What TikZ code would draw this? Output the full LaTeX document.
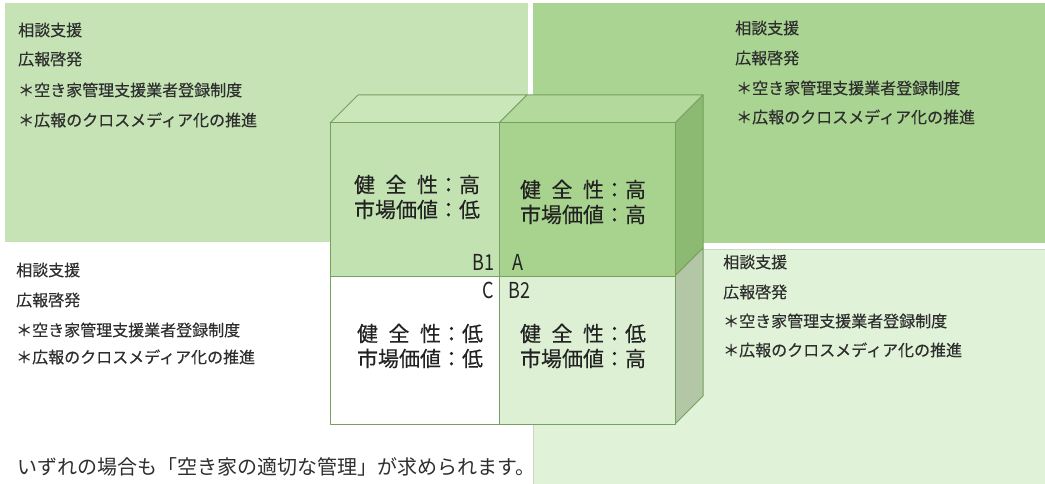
\documentclass[tikz,border=0pt]{standalone}
\usepackage{fontspec}
\setmainfont{Noto Sans CJK JP}
\newfontfamily\labfont[FakeStretch=0.82]{Noto Sans CJK JP}
\newfontfamily\heavyfont[FakeBold=0.3]{Noto Sans CJK JP}
\definecolor{tlfill}{HTML}{C5E3B5}
\definecolor{trfill}{HTML}{A9D491}
\definecolor{brfill}{HTML}{E0F2D7}
\definecolor{brline}{HTML}{CCD6C6}
\definecolor{faceBone}{HTML}{C3E2B2}
\definecolor{faceA}{HTML}{A7D38F}
\definecolor{faceBtwo}{HTML}{DEF0D4}
\definecolor{topL}{HTML}{C9E7B9}
\definecolor{topR}{HTML}{B3D99C}
\definecolor{sideU}{HTML}{8DBA72}
\definecolor{sideL}{HTML}{B3C7A6}
\definecolor{edge}{HTML}{76A060}
\definecolor{txt}{HTML}{2E2E2E}
\definecolor{txtd}{HTML}{222222}
\tikzset{
  infoline/.style={anchor=west, inner sep=0pt, text=txt, font=\heavyfont\fontsize{16pt}{18pt}\selectfont},
  cubetext/.style={inner sep=0pt, text=txtd, align=left, font=\heavyfont\fontsize{21pt}{25pt}\selectfont},
  cubelabel/.style={inner sep=0pt, text=txtd, font=\labfont\fontsize{22pt}{24pt}\selectfont},
  cubeface/.style={draw=edge, line width=1pt, line join=round},
  footnote/.style={anchor=west, inner sep=0pt, text=txt, font=\fontsize{20pt}{22pt}\selectfont}
}
\newcommand{\kenzen}{\makebox[4em][s]{健\hfill 全\hfill 性}}
\begin{document}
\begin{tikzpicture}[x=1pt,y=-1pt]
\useasboundingbox (0,0) rectangle (1045,484);
% background panels
\fill[tlfill] (5,3) rectangle (528,242);
\fill[trfill] (533,3) rectangle (1045,243);
\filldraw[fill=brfill, draw=brline, line width=0.8pt] (533,249) rectangle (1046,485);
% panel texts
\node[infoline] (tla) at (18,30) {相談支援};
\node[infoline] (tlb) at (18,59) {広報啓発};
\node[infoline] (tlc) at (18,90) {＊空き家管理支援業者登録制度};
\node[infoline] (tld) at (18,120) {＊広報のクロスメディア化の推進};
\node[infoline] (tra) at (735,28) {相談支援};
\node[infoline] (trb) at (735,58) {広報啓発};
\node[infoline] (trc) at (736,88) {＊空き家管理支援業者登録制度};
\node[infoline] (trd) at (736,117) {＊広報のクロスメディア化の推進};
\node[infoline] (bla) at (16,270) {相談支援};
\node[infoline] (blb) at (16,300) {広報啓発};
\node[infoline] (blc) at (16,330) {＊空き家管理支援業者登録制度};
\node[infoline] (bld) at (16,357) {＊広報のクロスメディア化の推進};
\node[infoline] (bra) at (723,262) {相談支援};
\node[infoline] (brb) at (723,292) {広報啓発};
\node[infoline] (brc) at (723,321) {＊空き家管理支援業者登録制度};
\node[infoline] (brd) at (723,350) {＊広報のクロスメディア化の推進};
% cube
\path[cubeface, fill=topL] (330,123) -- (358,95) -- (527,95) -- (499,123) -- cycle;
\path[cubeface, fill=topR] (499,123) -- (527,95) -- (703,95) -- (675,123) -- cycle;
\path[cubeface, fill=sideU] (675,123) -- (703,95) -- (703,248) -- (675,276) -- cycle;
\path[cubeface, fill=sideL] (675,276) -- (703,248) -- (703,396) -- (675,424) -- cycle;
\path[cubeface, fill=faceBone] (330,123) rectangle (499,276);
\path[cubeface, fill=faceA] (499,123) rectangle (675,276);
\path[cubeface, fill=white] (330,276) rectangle (499,424);
\path[cubeface, fill=faceBtwo] (499,276) rectangle (675,424);
% cube texts
\node[cubetext] (qb1) at (417,197) {\kenzen：高\\市場価値：低};
\node[cubetext] (qa) at (583,202) {\kenzen：高\\市場価値：高};
\node[cubetext] (qc) at (420,346) {\kenzen：低\\市場価値：低};
\node[cubetext] (qb2) at (583,346) {\kenzen：低\\市場価値：高};
\node[cubelabel, anchor=east] (lb1) at (495,262) {B1};
\node[cubelabel, anchor=west] (la) at (512,262) {A};
\node[cubelabel, anchor=east] (lc) at (494,290) {C};
\node[cubelabel, anchor=west] (lb2) at (508,290) {B2};
% footnote
\node[footnote] (foot) at (17,467) {いずれの場合も「空き家の適切な管理」が求められます。};
\end{tikzpicture}
\end{document}
